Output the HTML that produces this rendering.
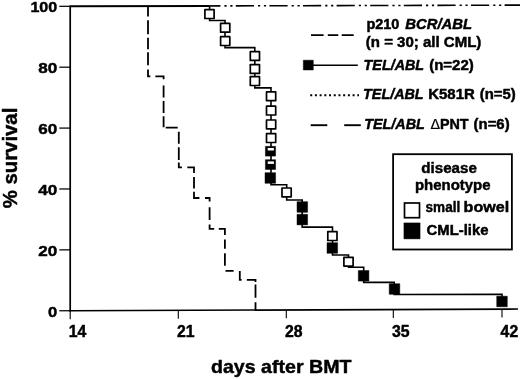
<!DOCTYPE html>
<html lang="en"><head><meta charset="utf-8"><title>Survival after BMT</title>
<style>html,body{margin:0;padding:0;background:#fff;}body{width:520px;height:379px;overflow:hidden;}svg{display:block;}</style>
</head><body>
<svg width="520" height="379" viewBox="0 0 520 379">
<rect width="520" height="379" fill="#fff"/>
<g font-family="'Liberation Sans', Arial, Helvetica, sans-serif" font-weight="bold" fill="#000" stroke="#000" stroke-width="0.45" stroke-linejoin="round">
<line x1="70.2" y1="5.5" x2="70.2" y2="311.5" stroke-width="1.7"/>
<line x1="69.4" y1="310.75" x2="518" y2="309.00" stroke-width="1.7"/>
<line x1="59.3" y1="310.75" x2="70" y2="310.75" stroke-width="1.25"/>
<text x="57.2" y="316.85" font-size="15.1" text-anchor="end" textLength="9.2" lengthAdjust="spacingAndGlyphs">0</text>
<line x1="59.3" y1="249.86" x2="70" y2="249.86" stroke-width="1.25"/>
<text x="57.2" y="255.96" font-size="15.1" text-anchor="end" textLength="19.0" lengthAdjust="spacingAndGlyphs">20</text>
<line x1="59.3" y1="188.97" x2="70" y2="188.97" stroke-width="1.25"/>
<text x="57.2" y="195.07" font-size="15.1" text-anchor="end" textLength="19.0" lengthAdjust="spacingAndGlyphs">40</text>
<line x1="59.3" y1="128.08" x2="70" y2="128.08" stroke-width="1.25"/>
<text x="57.2" y="134.18" font-size="15.1" text-anchor="end" textLength="19.0" lengthAdjust="spacingAndGlyphs">60</text>
<line x1="59.3" y1="67.19" x2="70" y2="67.19" stroke-width="1.25"/>
<text x="57.2" y="73.29" font-size="15.1" text-anchor="end" textLength="19.0" lengthAdjust="spacingAndGlyphs">80</text>
<line x1="59.3" y1="6.30" x2="70" y2="6.30" stroke-width="1.25"/>
<text x="57.2" y="12.10" font-size="15.1" text-anchor="end" textLength="26.8" lengthAdjust="spacingAndGlyphs">100</text>
<line x1="70.20" y1="310.75" x2="70.20" y2="319.15" stroke-width="1.1"/>
<text x="68.80" y="336.9" font-size="15.8" textLength="17.6" lengthAdjust="spacingAndGlyphs">14</text>
<line x1="178.30" y1="310.33" x2="178.30" y2="318.73" stroke-width="1.1"/>
<text x="176.90" y="336.9" font-size="15.8" textLength="17.6" lengthAdjust="spacingAndGlyphs">21</text>
<line x1="286.30" y1="309.91" x2="286.30" y2="318.31" stroke-width="1.1"/>
<text x="284.90" y="336.9" font-size="15.8" textLength="17.6" lengthAdjust="spacingAndGlyphs">28</text>
<line x1="393.30" y1="309.49" x2="393.30" y2="317.89" stroke-width="1.1"/>
<text x="391.90" y="336.9" font-size="15.8" textLength="17.6" lengthAdjust="spacingAndGlyphs">35</text>
<line x1="502.00" y1="309.07" x2="502.00" y2="317.47" stroke-width="1.1"/>
<text x="500.60" y="336.9" font-size="15.8" textLength="17.6" lengthAdjust="spacingAndGlyphs">42</text>
<text x="211" y="372.7" font-size="19" textLength="140.5" lengthAdjust="spacingAndGlyphs">days after BMT</text>
<text transform="translate(16.6 208.3) rotate(-90)" font-size="20.2" textLength="100.6" lengthAdjust="spacingAndGlyphs">% survival</text>
<line x1="70.2" y1="6.3" x2="210" y2="5.94" stroke-width="1.9"/>
<line x1="202.2" y1="5.96" x2="520" y2="5.13" stroke-width="1.6" stroke-dasharray="18.2 4 2.2 3.7 2.2 3.3"/>
<path d="M148 6.3V16.5 M148 20.3V34.2 M148 37.7V49.3 M148 52.2V65.2 M148 69.6V76.3H150.4 M155.4 76.3H163.6V79.3 M163.6 85.4V97.4 M163.6 100.9V112.9 M163.6 116.3V127.2 M165.7 127.6H177.7 M178.8 131.7V143.8 M178.8 147.2V159.9 M178.8 162.6V167.3H181.9 M187.3 167.3H194V172.9 M194 177V188.4 M194 191.8V198H199.4 M205 198H209.6V201.6 M209.6 207.2V220.1 M209.6 224.4V228.9H214.2 M218.8 228.9H224.9V234.9 M224.9 239.5V248.8 M224.9 253.3V265.7 M225.5 270.9H233.6 M239.8 270.9V279.9H241.6 M246.8 279.9H255.5V282 M255.5 284.4V297.7 M255.5 302.3V310" fill="none" stroke-width="1.8" stroke-linejoin="miter"/>
<path d="M209.6 6 V20.5 H225 V47.6 H254.8 V87.9 H271 V184.8 H286.7 V200 H302.2 V227.1 H332.5 V255 H348.5 V267.2 H363.7 V282.4 H394.2 V294.5 L502 294.2 V305" fill="none" stroke-width="1.6" stroke-linejoin="miter"/>
<rect x="204.90" y="9.70" width="9.2" height="8.8" fill="#fff" stroke-width="1.7"/>
<rect x="220.60" y="23.40" width="9.2" height="8.8" fill="#fff" stroke-width="1.7"/>
<rect x="220.60" y="36.70" width="9.2" height="8.8" fill="#fff" stroke-width="1.7"/>
<rect x="250.30" y="51.60" width="9.2" height="8.8" fill="#fff" stroke-width="1.7"/>
<rect x="250.30" y="64.60" width="9.2" height="8.8" fill="#fff" stroke-width="1.7"/>
<rect x="250.30" y="76.70" width="9.2" height="8.8" fill="#fff" stroke-width="1.7"/>
<rect x="266.50" y="91.90" width="9.2" height="8.8" fill="#fff" stroke-width="1.7"/>
<rect x="266.50" y="106.20" width="9.2" height="8.8" fill="#fff" stroke-width="1.7"/>
<rect x="266.50" y="120.00" width="9.2" height="8.8" fill="#fff" stroke-width="1.7"/>
<rect x="266.50" y="133.70" width="9.2" height="8.8" fill="#fff" stroke-width="1.7"/>
<rect x="265.40" y="146.30" width="10.2" height="9.8"/>
<rect x="267.70" y="148.00" width="6.2" height="2.5" fill="#fff" stroke="none"/>
<rect x="265.40" y="159.70" width="10.2" height="9.8"/>
<rect x="267.70" y="161.40" width="6.2" height="2.5" fill="#fff" stroke="none"/>
<rect x="265.00" y="172.70" width="10.6" height="10.6"/>
<rect x="282.00" y="188.00" width="9.2" height="8.8" fill="#fff" stroke-width="1.7"/>
<rect x="297.00" y="201.70" width="10.6" height="10.6"/>
<rect x="297.00" y="214.30" width="10.6" height="10.6"/>
<rect x="327.80" y="231.70" width="9.2" height="8.8" fill="#fff" stroke-width="1.7"/>
<rect x="327.00" y="242.70" width="10.6" height="10.6"/>
<rect x="343.90" y="257.30" width="9.2" height="8.8" fill="#fff" stroke-width="1.7"/>
<rect x="358.30" y="270.50" width="10.6" height="10.6"/>
<rect x="389.20" y="283.70" width="10.6" height="10.6"/>
<rect x="496.70" y="296.20" width="10.6" height="10.6"/>
<line x1="311" y1="35.1" x2="354.3" y2="35.1" stroke-width="1.7" stroke-dasharray="12.6 4.2 10.5 3.4 12"/>
<text x="366.4" y="29.4" font-size="14" textLength="33" lengthAdjust="spacingAndGlyphs">p210</text>
<text x="405.3" y="29.4" font-size="14" font-style="italic" textLength="66.8" lengthAdjust="spacingAndGlyphs">BCR/ABL</text>
<text x="365.8" y="47.4" font-size="14" textLength="115.5" lengthAdjust="spacingAndGlyphs">(n = 30; all CML)</text>
<rect x="303.3" y="60.2" width="10" height="9.8"/>
<line x1="313" y1="65.2" x2="357.8" y2="65.2" stroke-width="1.6"/>
<text x="363.6" y="70.2" font-size="14" font-style="italic" textLength="60.5" lengthAdjust="spacingAndGlyphs">TEL/ABL</text>
<text x="429.2" y="70.2" font-size="14" textLength="44.6" lengthAdjust="spacingAndGlyphs">(n=22)</text>
<line x1="310.2" y1="95.2" x2="359" y2="95.2" stroke-width="2" stroke-dasharray="2 2.71"/>
<text x="363.1" y="98.9" font-size="14" font-style="italic" textLength="60.5" lengthAdjust="spacingAndGlyphs">TEL/ABL</text>
<text x="428.2" y="98.9" font-size="14" textLength="46.6" lengthAdjust="spacingAndGlyphs">K581R</text>
<text x="479.8" y="98.9" font-size="14" textLength="36" lengthAdjust="spacingAndGlyphs">(n=5)</text>
<line x1="310.7" y1="125.2" x2="327.3" y2="125.2" stroke-width="1.9"/>
<line x1="344.2" y1="125.2" x2="360.8" y2="125.2" stroke-width="1.9"/>
<text x="364.3" y="128.8" font-size="14" font-style="italic" textLength="60.5" lengthAdjust="spacingAndGlyphs">TEL/ABL</text>
<text x="430.4" y="128.8" font-size="14" font-weight="normal" stroke-width="0.2" textLength="9.6" lengthAdjust="spacingAndGlyphs">Δ</text>
<text x="439.9" y="128.8" font-size="14" textLength="28.6" lengthAdjust="spacingAndGlyphs">PNT</text>
<text x="473.6" y="128.8" font-size="14" textLength="36" lengthAdjust="spacingAndGlyphs">(n=6)</text>
<rect x="393.1" y="154.2" width="118.8" height="95.3" fill="#fff" stroke-width="1.8" stroke-linejoin="miter"/>
<text x="421.3" y="173" font-size="14.3" textLength="55.5" lengthAdjust="spacingAndGlyphs">disease</text>
<text x="415" y="189.5" font-size="14.3" textLength="75.5" lengthAdjust="spacingAndGlyphs">phenotype</text>
<rect x="404.5" y="203" width="15" height="14.7" fill="#fff" stroke-width="1.7" stroke-linejoin="miter"/>
<text x="425.6" y="212" font-size="14.3" textLength="34.6" lengthAdjust="spacingAndGlyphs">small</text>
<text x="463.6" y="212" font-size="14.3" textLength="45.6" lengthAdjust="spacingAndGlyphs">bowel</text>
<rect x="403.9" y="222.9" width="16.2" height="16"/>
<text x="426.6" y="234.5" font-size="14.3" textLength="61.8" lengthAdjust="spacingAndGlyphs">CML-like</text>
</g></svg>
</body></html>
